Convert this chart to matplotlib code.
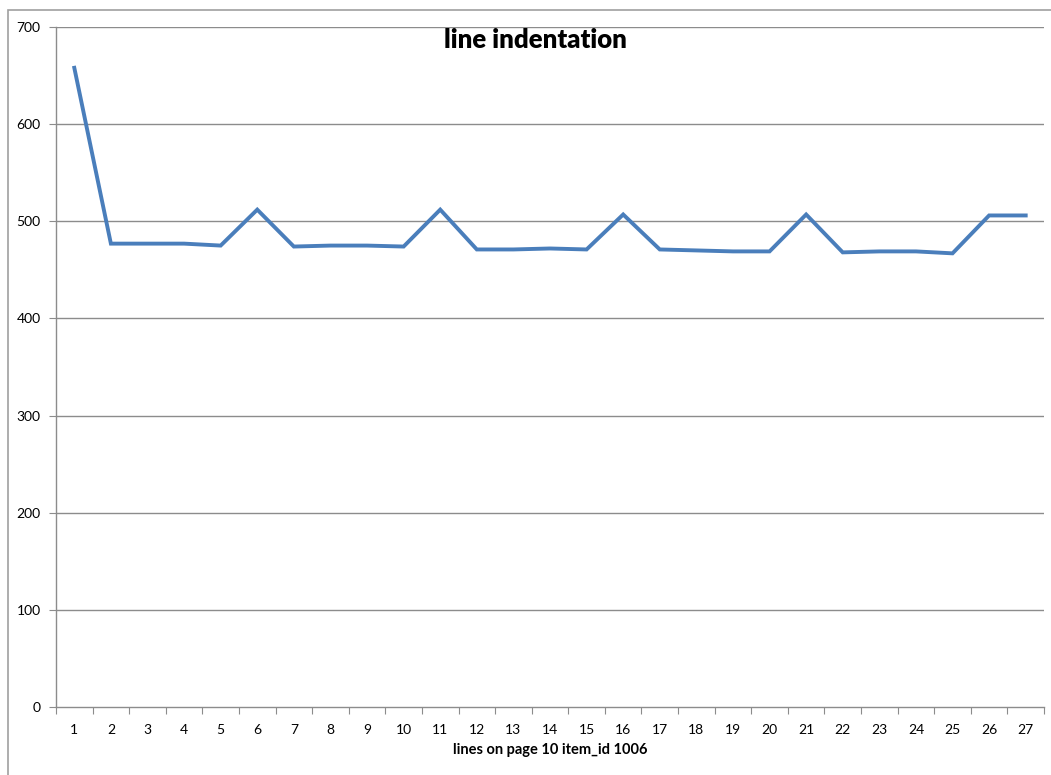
import matplotlib
matplotlib.use("Agg")
import matplotlib.pyplot as plt
from matplotlib.patches import Rectangle
from matplotlib.ticker import FixedLocator, NullFormatter

# Line numbers on the page and the indentation measured for each one
lines = list(range(1, 28))
indentation = [658, 477, 477, 477, 475, 512, 474, 475, 475, 474,
               512, 471, 471, 472, 471, 507, 471, 470, 469, 469,
               507, 468, 469, 469, 467, 506, 506]
y_ticks = [0, 100, 200, 300, 400, 500, 600, 700]

title = "line indentation"
x_label = "lines on page 10 item_id 1006"

GRID = "#8c8c8c"
LINE = "#4a7ebb"
plt.rcParams["font.family"] = ["Lato", "DejaVu Sans"]

fig = plt.figure(figsize=(10.51, 7.75), dpi=100)

# outer chart frame (only its top and left edges fall inside the figure)
fig.patches.append(Rectangle((8 / 1051, -0.1), 1.2, (775 - 10) / 775 + 0.1,
                             transform=fig.transFigure, fill=False,
                             edgecolor="#a0a0a0", linewidth=1.2))

ax = fig.add_axes([56 / 1051, 68 / 775, (1044 - 56) / 1051, (707 - 27) / 775])

n = len(lines)
pos = list(range(n))
ax.plot(pos, indentation, color=LINE, linewidth=2.8, solid_joinstyle="miter")

ax.set_xlim(-0.5, n - 0.5)
ax.set_ylim(0, 700)

# horizontal gridlines
for v in y_ticks[1:]:
    ax.axhline(v, color=GRID, linewidth=1.0, zorder=0)

ax.set_yticks(y_ticks)
ax.set_yticklabels([str(v) for v in y_ticks])

# category ticks sit on the boundaries between categories
ax.xaxis.set_major_locator(FixedLocator([i - 0.5 for i in range(n + 1)]))
ax.xaxis.set_major_formatter(NullFormatter())
ax.xaxis.set_minor_locator(FixedLocator(pos))
ax.set_xticklabels([str(v) for v in lines], minor=True)
ax.tick_params(axis="x", which="minor", length=0, pad=12, labelsize=10)
ax.tick_params(axis="x", which="major", length=5, color=GRID, direction="out")
ax.tick_params(axis="y", length=5, color=GRID, direction="out", pad=6, labelsize=10)

for side in ("top", "right"):
    ax.spines[side].set_visible(False)
for side in ("left", "bottom"):
    ax.spines[side].set_color(GRID)
    ax.spines[side].set_linewidth(1.0)

ax.set_xlabel(x_label, fontsize=10.5, fontweight="bold", labelpad=5)
fig.text(535 / 1051, 1 - 40 / 775, title, fontsize=18.5, fontweight="heavy",
         ha="center", va="center")

fig.savefig("out.png", dpi=100)
